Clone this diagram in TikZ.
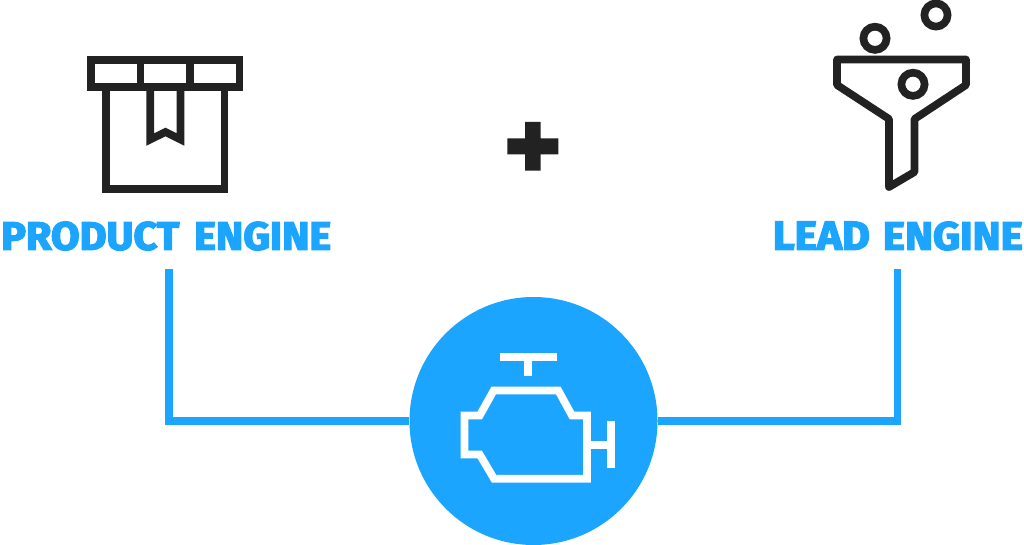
\documentclass[tikz,border=0pt]{standalone}
\usepackage{fontspec}
\setmainfont{Fira Sans}
\newfontfamily\titlefont[FakeBold=3.5]{Fira Sans Bold}
\definecolor{engblue}{HTML}{1CA5FF}
\definecolor{inkdark}{HTML}{222222}
\newcommand{\wordbox}[2]{\resizebox{#1pt}{28pt}{#2}}
\tikzset{
  x=1pt,y=-1pt,
  iconline/.style={draw=inkdark,line width=7.7pt,miter limit=10},
  roundline/.style={iconline,line join=round},
  whiteline/.style={draw=white,line width=7.7pt},
  conn/.style={draw=engblue,line width=7.6pt},
  title/.style={inner sep=0pt,text=engblue,font=\titlefont},
  hubdisc/.style={circle,fill=engblue,inner sep=0pt,minimum size=248pt},
}
\begin{document}
\begin{tikzpicture}
\useasboundingbox (0,0) rectangle (1024,545);
% labels
\node[title,anchor=north west] (product) at (1,221.5) {\wordbox{178}{PRODUCT}\hspace{15pt}\wordbox{137}{ENGINE}};
\node[title,anchor=north east] (lead) at (1023,221.5) {\wordbox{97}{LEAD}\hspace{13pt}\wordbox{140}{ENGINE}};
% connectors
\coordinate (pstart) at (169,269);
\coordinate (lstart) at (897.5,269);
\node[hubdisc] (hub) at (533.5,421) {};
\draw[conn] (pstart) |- (hub.west);
\draw[conn] (lstart) |- (hub.east);
% box icon
\draw[iconline] (91,60) rectangle (239.5,87);
\draw[iconline] (140.5,60) -- (140.5,87) (190,60) -- (190,87);
\draw[iconline] (106,87) -- (106,189) -- (224.6,189) -- (224.6,87);
\draw[iconline] (150.3,87) -- (150.3,139.5) -- (165.5,132) -- (180.5,139.5) -- (180.5,87);
% plus
\fill[inkdark] (525,122) -- (540.7,122) -- (540.7,138.3) -- (558.3,138.3) -- (558.3,154.3) -- (540.7,154.3) -- (540.7,170.7) -- (525,170.7) -- (525,154.3) -- (507.3,154.3) -- (507.3,138.3) -- (525,138.3) -- cycle;
% funnel icon
\draw[roundline] (837,59.5) -- (966,59.5) -- (966,85) -- (914.5,119) -- (914.5,172) -- (889,187) -- (889,119) -- (837,85) -- cycle;
\draw[iconline] (875,38.3) circle[radius=11.6];
\draw[iconline] (936,15) circle[radius=11.6];
\draw[iconline] (913,84.3) circle[radius=11.6];
% engine icon
\draw[whiteline] (500,356.7) -- (556.7,356.7) (528.3,356.7) -- (528.3,375.7);
\draw[whiteline] (493.7,390.5) -- (558.3,390.5) -- (572,415.5) -- (587,415.5) -- (587,478.7) -- (494,478.7) -- (479.7,454.5) -- (464.5,454.5) -- (464.5,415.5) -- (479.7,415.5) -- cycle;
\draw[whiteline] (587,445) -- (611,445) (611,421) -- (611,468.3);
\end{tikzpicture}
\end{document}
